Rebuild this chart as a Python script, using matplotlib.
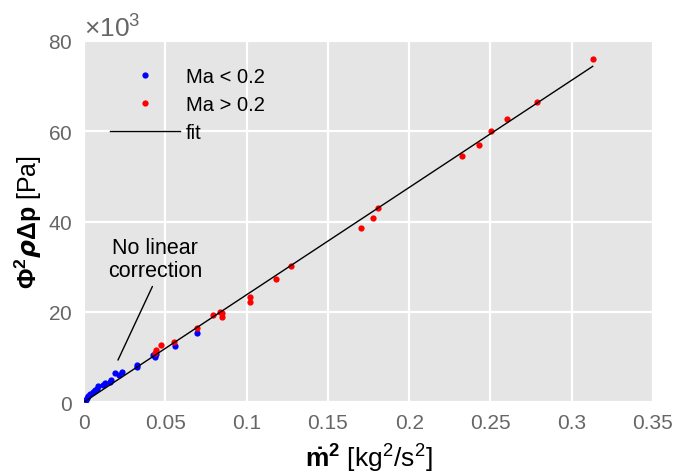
import matplotlib
matplotlib.use("Agg")
import matplotlib.pyplot as plt
from matplotlib.ticker import FuncFormatter, ScalarFormatter
import numpy as np

plt.rcParams['font.family'] = ['Liberation Sans', 'DejaVu Sans']
plt.rcParams['mathtext.fontset'] = 'custom'
plt.rcParams['mathtext.rm'] = 'Liberation Sans'
plt.rcParams['mathtext.bf'] = 'Liberation Sans:bold'
plt.rcParams['mathtext.it'] = 'DejaVu Sans:italic:bold'
plt.rcParams['axes.formatter.use_mathtext'] = True

# Mass flux squared [kg^2/s^2] and scaled pressure drop [Pa]
mdot2_low = [0.0012, 0.0016, 0.0026, 0.0037, 0.0053, 0.0067, 0.0078, 0.0088,
             0.0115, 0.0129, 0.0160, 0.0164, 0.0190, 0.0217, 0.0231, 0.0327,
             0.0327, 0.0425, 0.0436, 0.0442, 0.0558, 0.0697]
dp_low = [400, 800, 1300, 1800, 2300, 2700, 3000, 3600,
          3800, 4200, 4500, 4900, 6500, 6000, 6700, 7800,
          8200, 10400, 9900, 10600, 12400, 15400]

mdot2_high = [0.0436, 0.0446, 0.0472, 0.0556, 0.0695, 0.0793, 0.0834, 0.0851,
              0.0851, 0.1020, 0.1020, 0.1180, 0.1276, 0.1704, 0.1775, 0.1810,
              0.2323, 0.2427, 0.2505, 0.2603, 0.2787, 0.3129]
dp_high = [10900, 11600, 12700, 13300, 16300, 19400, 20000, 19700,
           18800, 23300, 22200, 27200, 30100, 38600, 40700, 43100,
           54500, 56900, 60100, 62800, 66400, 76100]

# Linear fit through the origin
fit_slope = 237700.0
fit_x = [0.0, 0.3129]

fig = plt.figure(figsize=(6.79, 4.77), dpi=100)
ax = fig.add_axes([0.1237, 0.155, 0.838, 0.757])
ax.set_facecolor('#e5e5e5')
for s in ax.spines.values():
    s.set_visible(False)

ax.plot(mdot2_low, dp_low, 'o', color='#0000ff', ms=4.5, mew=0, label='Ma < 0.2', zorder=3)
ax.plot(mdot2_high, dp_high, 'o', color='#ff0000', ms=4.5, mew=0, label='Ma > 0.2', zorder=3)
ax.plot(fit_x, [fit_slope * v for v in fit_x], '-', color='black', lw=1.0, label='fit', zorder=4)

ax.set_xlim(0, 0.35)
ax.set_ylim(0, 80000)
ax.set_xticks(np.arange(0, 0.351, 0.05))
ax.set_yticks(np.arange(0, 80001, 20000))
ax.xaxis.set_major_formatter(FuncFormatter(lambda v, p: '%g' % round(v, 3)))
fmt = ScalarFormatter(useMathText=True)
fmt.set_powerlimits((3, 3))
ax.yaxis.set_major_formatter(fmt)
ax.grid(True, color='white', lw=1.6)
ax.set_axisbelow(True)
ax.tick_params(length=0, labelsize=15, labelcolor='#666666', pad=8)
off = ax.yaxis.get_offset_text()
off.set_fontsize(19)
off.set_color('#666666')

ax.set_xlabel(r'$\mathbf{\dot{m}^2}$ [kg$^2$/s$^2$]', fontsize=19, labelpad=6)
ax.set_ylabel(r'$\mathbf{\Phi^2}\rho\mathbf{\Delta p}$ [Pa]', fontsize=18, labelpad=3)

ax.annotate('No linear\ncorrection', xy=(0.0209, 9300), xytext=(0.0436, 31700),
            ha='center', va='center', fontsize=15.5, linespacing=1.15,
            arrowprops=dict(arrowstyle='-', color='black', lw=1.0,
                            relpos=(0.5, 0.0), shrinkA=2, shrinkB=0))

leg = ax.legend(loc='upper left', frameon=False, fontsize=14.5, handlelength=3.45,
                bbox_to_anchor=(0.014, 0.978), labelspacing=0.45, handletextpad=0.3,
                numpoints=1, markerscale=1.0)

fig.savefig('out.png', dpi=100)
